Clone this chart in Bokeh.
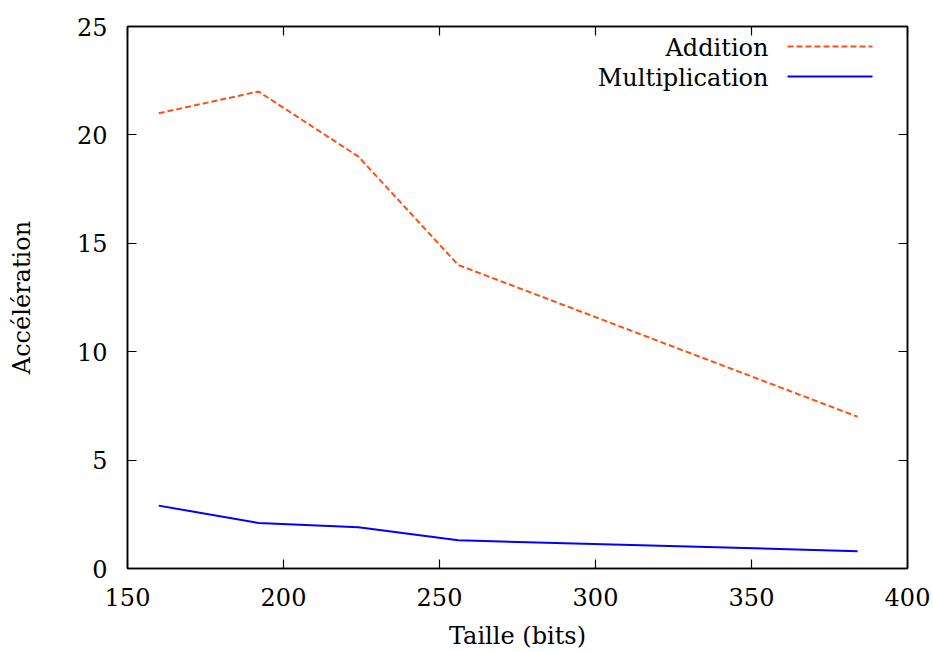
from bokeh.plotting import figure
from bokeh.models import LinearAxis, Label, Arrow, FixedTicker, Range1d
from bokeh.embed import file_html
from bokeh.resources import INLINE

# Data
taille = [160, 192, 224, 256, 384]
addition = [21, 22, 19, 14, 7]
multiplication = [2.9, 2.1, 1.9, 1.3, 0.8]
x_ticks = [150, 200, 250, 300, 350, 400]
y_ticks = [0, 5, 10, 15, 20, 25]
series_names = ["Addition", "Multiplication"]

FONT = "DejaVu Serif"
FS = "24px"
ADD_COLOR = "#ff5014"
MUL_COLOR = "#0000ff"

p = figure(width=933, height=652, output_backend="svg", toolbar_location=None,
           x_range=Range1d(150, 400), y_range=Range1d(0, 25),
           min_border_left=127, min_border_right=26, min_border_top=26, min_border_bottom=83)
p.xgrid.visible = False
p.ygrid.visible = False
p.outline_line_color = "black"
p.outline_line_width = 1.5
p.outline_line_alpha = 1.0
p.background_fill_color = "white"
p.border_fill_color = "white"

def style_axis(ax, ticks):
    ax.ticker = FixedTicker(ticks=ticks)
    ax.major_tick_in = 9
    ax.major_tick_out = 0
    ax.minor_tick_line_color = None
    ax.axis_line_color = "black"
    ax.axis_line_width = 1.5
    ax.major_tick_line_color = "black"
    ax.major_tick_line_width = 1.2
    ax.major_label_text_font = FONT
    ax.major_label_text_font_size = FS
    ax.major_label_text_color = "black"
    ax.axis_label_text_font = FONT
    ax.axis_label_text_font_size = FS
    ax.axis_label_text_font_style = "normal"
    ax.axis_label_text_color = "black"

style_axis(p.xaxis[0], x_ticks)
style_axis(p.yaxis[0], y_ticks)
p.xaxis[0].axis_label = "Taille (bits)"
p.yaxis[0].axis_label = "Accélération"
p.xaxis[0].major_label_standoff = 19
p.xaxis[0].axis_label_standoff = 13
p.yaxis[0].major_label_standoff = 20
p.yaxis[0].axis_label_standoff = 38

# mirrored ticks on top and right
top = LinearAxis()
right = LinearAxis()
style_axis(top, x_ticks)
style_axis(right, y_ticks)
top.major_label_overrides = {float(t): "" for t in x_ticks}
right.major_label_overrides = {float(t): "" for t in y_ticks}
top.major_label_text_font_size = "1px"
right.major_label_text_font_size = "1px"
top.major_label_standoff = 0
right.major_label_standoff = 0
p.add_layout(top, "above")
p.add_layout(right, "right")

p.line(taille, addition, line_color=ADD_COLOR, line_width=2, line_dash="6 3")
p.line(taille, multiplication, line_color=MUL_COLOR, line_width=2)

# Legend (text on the left, sample on the right), in screen units
legend_rows = [(series_names[0], ADD_COLOR, "6 3", 521),
               (series_names[1], MUL_COLOR, "solid", 491)]
for name, col, dash, yy in legend_rows:
    p.add_layout(Label(x=641, y=yy, x_units="screen", y_units="screen", text=name,
                       text_font=FONT, text_font_size=FS, text_align="right",
                       text_baseline="middle", text_color="black"))
    p.add_layout(Arrow(start=None, end=None, x_start=660, y_start=yy + 1, x_end=745, y_end=yy + 1,
                       start_units="screen", end_units="screen",
                       line_color=col, line_width=2, line_dash=dash))

open("out.html", "w").write(file_html(p, INLINE))
